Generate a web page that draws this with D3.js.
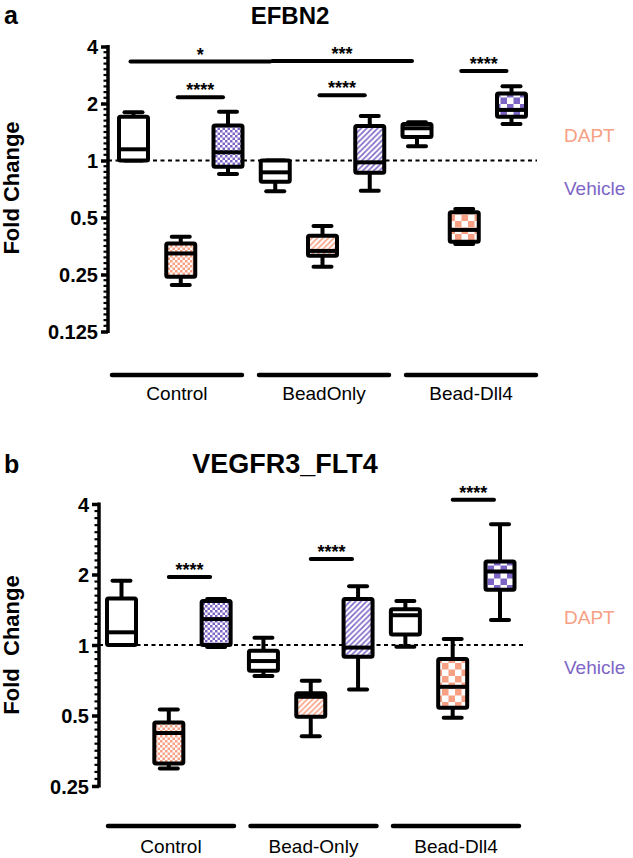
<!DOCTYPE html>
<html><head><meta charset="utf-8">
<script src="https://cdn.jsdelivr.net/npm/d3@7"></script>
<style>body{margin:0;background:#fff}svg{display:block;font-family:"Liberation Sans",Arial,sans-serif}</style>
</head><body><svg id="c" width="633" height="858"></svg>
<script>
// ---------- data ----------
const groupsA = ["Control", "BeadOnly", "Bead-Dll4"];
const groupsB = ["Control", "Bead-Only", "Bead-Dll4"];
const treatments = ["None", "DAPT", "Vehicle"];
const legendLabels = ["DAPT", "Vehicle"];
const ticksA = [0.125, 0.25, 0.5, 1, 2, 4];
const tickLabelsA = ["0.125", "0.25", "0.5", "1", "2", "4"];
const ticksB = [0.25, 0.5, 1, 2, 4];
const tickLabelsB = ["0.25", "0.5", "1", "2", "4"];
// [min, q1, median, q3, max] per box, order: group x treatment
const efbn2Stats = [
  [1.00, 1.00, 1.146, 1.70, 1.80],
  [0.220, 0.243, 0.323, 0.365, 0.396],
  [0.849, 0.927, 1.105, 1.53, 1.81],
  [0.688, 0.773, 0.866, 1.00, 1.00],
  [0.275, 0.314, 0.333, 0.400, 0.451],
  [0.693, 0.862, 0.978, 1.52, 1.72],
  [1.19, 1.33, 1.48, 1.56, 1.59],
  [0.362, 0.372, 0.430, 0.533, 0.555],
  [1.56, 1.70, 1.85, 2.26, 2.47]
];
const flt4Stats = [
  [1.00, 1.00, 1.133, 1.58, 1.88],
  [0.297, 0.312, 0.421, 0.467, 0.531],
  [0.98, 1.00, 1.29, 1.54, 1.57],
  [0.737, 0.776, 0.854, 0.945, 1.075],
  [0.408, 0.494, 0.601, 0.622, 0.704],
  [0.646, 0.891, 0.975, 1.57, 1.78],
  [0.983, 1.11, 1.34, 1.42, 1.54],
  [0.489, 0.539, 0.663, 0.871, 1.061],
  [1.28, 1.72, 2.06, 2.27, 3.28]
];
// significance: [fromBox, toBox, yValue, label]
const sigA = [[0, 3, 3.33, "*"], [3, 6, 3.35, "***"], [1, 2, 2.16, "****"], [4, 5, 2.21, "****"], [7, 8, 2.97, "****"]];
const sigB = [[1, 2, 1.95, "****"], [4, 5, 2.33, "****"], [7, 8, 4.17, "****"]];

// ---------- styles ----------
const colDAPT = "#F8A083", colVeh = "#7D65C6";
const svg = d3.select("#c");
svg.append("rect").attr("width", 633).attr("height", 858).attr("fill", "#fff");
const defs = svg.append("defs");
function makePatterns(id, col) {
  let p = defs.append("pattern").attr("id", id + "0").attr("patternUnits", "userSpaceOnUse").attr("width", 5).attr("height", 5);
  p.append("rect").attr("width", 5).attr("height", 5).attr("fill", "#fff");
  p.append("rect").attr("width", 2.5).attr("height", 2.5).attr("fill", col);
  p.append("rect").attr("x", 2.5).attr("y", 2.5).attr("width", 2.5).attr("height", 2.5).attr("fill", col);
  p = defs.append("pattern").attr("id", id + "1").attr("patternUnits", "userSpaceOnUse").attr("width", 5.5).attr("height", 5.5);
  p.append("rect").attr("width", 5.5).attr("height", 5.5).attr("fill", "#fff");
  p.append("path").attr("d", "M-1,6.5L6.5,-1M-1,1L1,-1M4.5,6.5L6.5,4.5").attr("stroke", col).attr("stroke-width", 1.5);
  p = defs.append("pattern").attr("id", id + "2").attr("patternUnits", "userSpaceOnUse").attr("width", 13).attr("height", 13);
  p.append("rect").attr("width", 13).attr("height", 13).attr("fill", "#fff");
  p.append("rect").attr("width", 6.5).attr("height", 6.5).attr("fill", col);
  p.append("rect").attr("x", 6.5).attr("y", 6.5).attr("width", 6.5).attr("height", 6.5).attr("fill", col);
}
makePatterns("pd", colDAPT);
makePatterns("pv", colVeh);

function panel(cfg) {
  const g = svg.append("g");
  const y = d3.scaleLog().base(2).domain(cfg.domain).range(cfg.yRange);
  const x = d3.scalePoint().domain(d3.range(9)).range(cfg.xRange);
  const gx = d3.scaleBand().domain(cfg.groups).range(cfg.lineRange).paddingInner(0.116);

  g.append("text").attr("x", 4).attr("y", cfg.letterY).attr("font-size", 25).attr("font-weight", "bold").text(cfg.letter);
  g.append("text").attr("x", cfg.titleX).attr("y", cfg.titleY).attr("text-anchor", "middle")
    .attr("font-size", cfg.titleSize).attr("font-weight", "bold").text(cfg.title);

  const ax = g.append("g").attr("transform", `translate(${cfg.axisX},0)`)
    .call(d3.axisLeft(y).tickValues(cfg.ticks).tickFormat((d, i) => cfg.tickLabels[i]).tickSize(7).tickSizeOuter(0).tickPadding(3));
  ax.select(".domain").attr("stroke-width", 3.5).attr("d", `M0,${y(cfg.domain[1]) - 1.5}V${y(cfg.domain[0]) + 1.5}`);
  ax.selectAll(".tick line").attr("stroke-width", 3.5);
  ax.selectAll(".tick text").attr("font-size", 20).attr("font-weight", "bold").attr("fill", "#000")
    .attr("font-family", "Liberation Sans, Arial, sans-serif").attr("dy", "0.36em");
  const minor = [];
  for (let i = 0; i < cfg.ticks.length - 1; i++) for (let k = 1; k < 10; k++) minor.push(cfg.ticks[i] * Math.pow(2, k / 10));
  ax.selectAll(".minor").data(minor).enter().append("line").attr("class", "minor")
    .attr("x1", 0).attr("x2", -4.5).attr("y1", d => y(d)).attr("y2", d => y(d)).attr("stroke", "#000").attr("stroke-width", 2.2);

  g.append("text").attr("transform", `translate(19,${cfg.labelY}) rotate(-90)`).attr("text-anchor", "middle")
    .attr("font-size", 22).attr("font-weight", "bold").attr("xml:space", "preserve").text(cfg.yLabel);

  g.append("line").attr("x1", cfg.axisX).attr("x2", cfg.dashEnd).attr("y1", y(1)).attr("y2", y(1))
    .attr("stroke", "#000").attr("stroke-width", 2).attr("stroke-dasharray", "4,3.5");

  const bw = 29, cw = 18, sw = 4;
  cfg.stats.forEach((s, i) => {
    const cx = x(i), t = i % 3, grp = Math.floor(i / 3);
    const [mn, q1, md, q3, mx] = s;
    const bg = g.append("g");
    const fill = t === 0 ? "#fff" : `url(#${t === 1 ? "pd" : "pv"}${grp})`;
    bg.append("line").attr("x1", cx).attr("x2", cx).attr("y1", y(q3)).attr("y2", y(mx)).attr("stroke", "#000").attr("stroke-width", sw);
    bg.append("line").attr("x1", cx).attr("x2", cx).attr("y1", y(q1)).attr("y2", y(mn)).attr("stroke", "#000").attr("stroke-width", sw);
    [mn, mx].forEach(v => bg.append("line").attr("x1", cx - cw / 2).attr("x2", cx + cw / 2).attr("y1", y(v)).attr("y2", y(v))
      .attr("stroke", "#000").attr("stroke-width", sw).attr("stroke-linecap", "round"));
    bg.append("rect").attr("x", cx - bw / 2).attr("y", y(q3)).attr("width", bw).attr("height", Math.max(0.5, y(q1) - y(q3)))
      .attr("fill", fill).attr("stroke", "#000").attr("stroke-width", sw).attr("rx", 1.5);
    bg.append("line").attr("x1", cx - bw / 2).attr("x2", cx + bw / 2).attr("y1", y(md)).attr("y2", y(md)).attr("stroke", "#000").attr("stroke-width", sw);
  });

  cfg.sig.forEach(([a, b, v, lab]) => {
    const x1 = x(a) - cfg.sigInset[0], x2 = x(b) - cfg.sigInset[1];
    g.append("line").attr("x1", x1).attr("x2", x2).attr("y1", y(v)).attr("y2", y(v))
      .attr("stroke", "#000").attr("stroke-width", 4).attr("stroke-linecap", "round");
    g.append("text").attr("x", (x1 + x2) / 2).attr("y", y(v) - 1).attr("text-anchor", "middle")
      .attr("font-size", 18).attr("font-weight", "bold").text(lab);
  });

  cfg.groups.forEach(gr => {
    g.append("line").attr("x1", gx(gr)).attr("x2", gx(gr) + gx.bandwidth()).attr("y1", cfg.lineY).attr("y2", cfg.lineY)
      .attr("stroke", "#000").attr("stroke-width", 4.5).attr("stroke-linecap", "round");
    g.append("text").attr("x", gx(gr) + gx.bandwidth() / 2).attr("y", cfg.groupLabelY).attr("text-anchor", "middle")
      .attr("font-size", 19).text(gr);
  });

  legendLabels.forEach((l, i) => {
    g.append("text").attr("x", 564).attr("y", cfg.legendY[i]).attr("font-size", 19)
      .attr("fill", i === 0 ? colDAPT : colVeh).text(l);
  });
}

panel({
  letter: "a", letterY: 24, title: "EFBN2", titleX: 290, titleY: 24, titleSize: 24,
  domain: [0.125, 4], yRange: [331.5, 46.5], xRange: [133.5, 511.5], axisX: 108,
  ticks: ticksA, tickLabels: tickLabelsA, stats: efbn2Stats, sig: sigA, sigInset: [3, 5],
  groups: groupsA, lineRange: [112, 536], lineY: 375, groupLabelY: 400,
  dashEnd: 537, yLabel: "Fold Change", labelY: 188, legendY: [142, 195]
});
panel({
  letter: "b", letterY: 473, title: "VEGFR3_FLT4", titleX: 285, titleY: 473, titleSize: 27,
  domain: [0.25, 4], yRange: [786, 504], xRange: [121.5, 500], axisX: 99,
  ticks: ticksB, tickLabels: tickLabelsB, stats: flt4Stats, sig: sigB, sigInset: [0, 6],
  groups: groupsB, lineRange: [108, 519], lineY: 826, groupLabelY: 853,
  dashEnd: 526, yLabel: "Fold  Change", labelY: 645, legendY: [624, 674]
});
</script></body></html>
